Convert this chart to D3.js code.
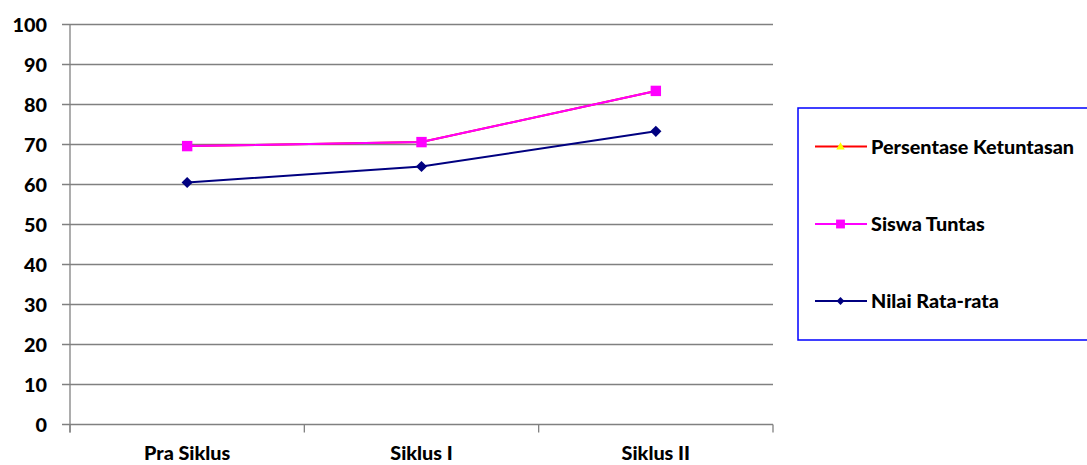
<!DOCTYPE html>
<html><head><meta charset="utf-8">
<script src="https://cdn.jsdelivr.net/npm/d3@7"></script>
<style>
html,body{margin:0;padding:0;background:#fff;}
svg text{font-family:Lato,"Open Sans",sans-serif;font-weight:900;fill:#000;}
</style></head>
<body><svg id="c" width="1087" height="465"></svg>
<script>
const categories = ["Pra Siklus", "Siklus I", "Siklus II"];
const persentaseKetuntasan = [69.6, 70.6, 83.4];
const siswaTuntas = [69.6, 70.6, 83.4];
const nilaiRataRata = [60.5, 64.5, 73.3];
const yTicks = [0,10,20,30,40,50,60,70,80,90,100];
const seriesNames = ["Persentase Ketuntasan", "Siswa Tuntas", "Nilai Rata-rata"];

const svg = d3.select("#c");
const L = 70, R = 773, T = 24.5, B = 424.5;
const FS = 19.8;
const x = d3.scaleBand().domain(categories).range([L, R]);
const y = d3.scaleLinear().domain([0, 100]).range([B, T]);

svg.append("g").selectAll("line").data(yTicks).join("line")
  .attr("x1", L - 8).attr("x2", R).attr("y1", d => y(d)).attr("y2", d => y(d))
  .attr("stroke", "#808080").attr("stroke-width", 1.3);
svg.append("line").attr("x1", L).attr("x2", L).attr("y1", T).attr("y2", B + 8)
  .attr("stroke", "#808080").attr("stroke-width", 1.3);
const xt = [L, ...categories.map(c => x(c) + x.bandwidth())];
svg.append("g").selectAll("line").data(xt).join("line")
  .attr("x1", d => d).attr("x2", d => d).attr("y1", B).attr("y2", B + 8)
  .attr("stroke", "#808080").attr("stroke-width", 1.3);
svg.append("g").selectAll("text").data(yTicks).join("text")
  .attr("x", 47).attr("y", d => y(d)).attr("dy", "0.36em")
  .attr("text-anchor", "end").attr("font-size", FS).text(d => d);
svg.append("g").selectAll("text").data(categories).join("text")
  .attr("x", d => x(d) + x.bandwidth() / 2).attr("y", 453).attr("dy", "0.36em")
  .attr("text-anchor", "middle").attr("font-size", FS).text(d => d);

const cx = c => x(c) + x.bandwidth() / 2;
const line = d3.line().x((d, i) => cx(categories[i])).y(d => y(d));

const series = [
  {name: seriesNames[0], vals: persentaseKetuntasan, color: "#ff0000", marker: "tri"},
  {name: seriesNames[1], vals: siswaTuntas, color: "#ff00ff", marker: "sq"},
  {name: seriesNames[2], vals: nilaiRataRata, color: "#000080", marker: "dia"}
];
function marker(g, type, px, py, scale) {
  if (type === "tri") {
    const s = 5 * scale;
    g.append("path").attr("d", `M${px},${py - s}L${px + s},${py + s * 0.7}L${px - s},${py + s * 0.7}Z`).attr("fill", "#ffff00");
  } else if (type === "sq") {
    const s = 5.2 * scale;
    g.append("rect").attr("x", px - s).attr("y", py - s).attr("width", 2 * s).attr("height", 2 * s).attr("fill", "#ff00ff");
  } else {
    const s = 5.6 * scale;
    g.append("path").attr("d", `M${px},${py - s}L${px + s},${py}L${px},${py + s}L${px - s},${py}Z`).attr("fill", "#000080");
  }
}
series.forEach(s => {
  const g = svg.append("g");
  g.append("path").datum(s.vals).attr("d", line).attr("fill", "none")
    .attr("stroke", s.color).attr("stroke-width", 2);
  s.vals.forEach((v, i) => marker(g, s.marker, cx(categories[i]), y(v), 1));
});

svg.append("rect").attr("x", 798).attr("y", 108).attr("width", 300).attr("height", 232)
  .attr("fill", "#fff").attr("stroke", "#0000ff").attr("stroke-width", 1.5);
const ly = [146.5, 224, 301];
series.forEach((s, i) => {
  const g = svg.append("g");
  g.append("line").attr("x1", 815).attr("x2", 867).attr("y1", ly[i]).attr("y2", ly[i])
    .attr("stroke", s.color).attr("stroke-width", 2);
  marker(g, s.marker, 840.5, ly[i], s.marker === "dia" ? 0.7 : 0.85);
  g.append("text").attr("x", 871).attr("y", ly[i]).attr("dy", "0.36em")
    .attr("font-size", FS).text(s.name);
});
</script></body></html>
